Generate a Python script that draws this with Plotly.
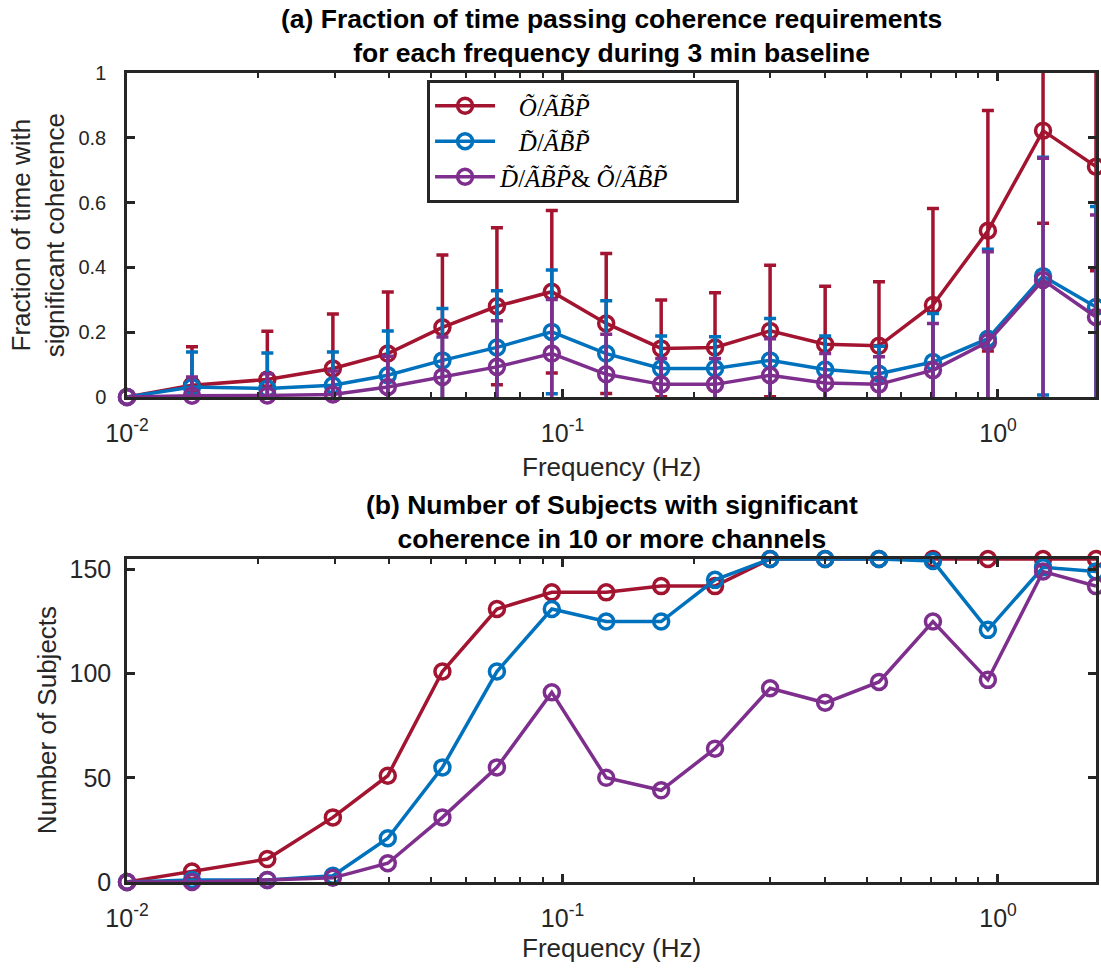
import plotly.graph_objects as go
import math

# ---------------- data ----------------
freqs = [0.0100, 0.0141, 0.0210, 0.0297, 0.0397, 0.0530, 0.0707, 0.0945, 0.126,
         0.1685, 0.224, 0.2997, 0.401, 0.533, 0.709, 0.948, 1.269, 1.679]

frac_O = [0, 0.036, 0.054, 0.088, 0.134, 0.215, 0.280, 0.325, 0.227, 0.150, 0.153,
          0.204, 0.163, 0.158, 0.284, 0.513, 0.822, 0.711]
std_O = [0, 0.119, 0.149, 0.168, 0.190, 0.223, 0.242, 0.251, 0.216, 0.149, 0.169,
         0.203, 0.179, 0.198, 0.298, 0.371, 0.286, 0.321]

frac_D = [0, 0.031, 0.026, 0.036, 0.067, 0.113, 0.153, 0.201, 0.134, 0.088, 0.088,
          0.113, 0.085, 0.072, 0.108, 0.180, 0.373, 0.278]
std_D = [0, 0.108, 0.110, 0.103, 0.137, 0.160, 0.175, 0.191, 0.163, 0.100, 0.098,
         0.129, 0.103, 0.085, 0.150, 0.276, 0.367, 0.310]

frac_DO = [0, 0.004, 0.005, 0.008, 0.031, 0.062, 0.093, 0.134, 0.070, 0.039, 0.039,
           0.067, 0.043, 0.039, 0.083, 0.170, 0.361, 0.247]
std_DO = [0, 0.058, 0.067, 0.072, 0.095, 0.123, 0.142, 0.167, 0.124, 0.080, 0.080,
          0.113, 0.091, 0.085, 0.144, 0.278, 0.376, 0.315]

n_O = [0, 5, 11, 31, 51, 101, 131, 139, 139, 142, 142, 155, 155, 155, 155, 155, 155, 155]
n_D = [0, 1, 1, 3, 21, 55, 101, 131, 125, 125, 145, 155, 155, 155, 154, 121, 151, 149]
n_DO = [0, 0, 1, 2, 9, 31, 55, 91, 50, 44, 64, 93, 86, 96, 125, 97, 149, 142]

NB = "\u00a0"
names = [NB * 3 + "<i>Õ</i>/<i>ÃB̃P̃</i>",
         NB * 3 + "<i>D̃</i>/<i>ÃB̃P̃</i>",
         "<i>D̃</i>/<i>ÃB̃P̃</i>&amp; <i>Õ</i>/<i>ÃB̃P̃</i>" + NB * 10]
colors = ["#A2142F", "#0072BD", "#7E2F8E"]

x_ticks = [0.01, 0.1, 1]
x_ticktext = ["10<sup>-2</sup>", "10<sup>-1</sup>", "10<sup>0</sup>"]
y1_ticks = [0, 0.2, 0.4, 0.6, 0.8, 1]
y1_ticktext = ["0", "0.2", "0.4", "0.6", "0.8", "1"]
y2_ticks = [0, 50, 100, 150]

title_a = "<b>(a) Fraction of time passing coherence requirements<br>for each frequency during 3 min baseline</b>"
title_b = "<b>(b) Number of Subjects with significant<br>coherence in 10 or more channels</b>"
xlabel = "Frequency (Hz)"
ylabel_a = "Fraction of time with<br>significant coherence"
ylabel_b = "Number of Subjects"

# ---------------- figure ----------------
W, H = 1101, 972
ML, MR, MT, MB = 127, 2, 73, 90
pw = W - ML - MR
ph = H - MT - MB

def py(y):  # pixel y -> paper y
    return 1 - (y - MT) / ph

def px(x):  # pixel x -> paper x
    return (x - ML) / pw

fig = go.Figure()

LW = 3.5
top_series = [(frac_O, std_O), (frac_D, std_D), (frac_DO, std_DO)]
for (vals, err), name, col in zip(top_series, names, colors):
    fig.add_trace(go.Scatter(
        x=freqs, y=vals, mode="markers", xaxis="x", yaxis="y",
        marker=dict(size=1, color="rgba(0,0,0,0)"),
        error_y=dict(type="data", array=err, visible=True, color=col,
                     thickness=LW, width=6),
        showlegend=False, hoverinfo="skip", cliponaxis=True))
    fig.add_trace(go.Scatter(
        x=freqs, y=vals, mode="lines+markers", name=name, xaxis="x", yaxis="y",
        line=dict(color=col, width=LW),
        marker=dict(symbol="circle-open", size=15, color=col, line=dict(width=LW)),
        cliponaxis=False, showlegend=True))

for vals, col in zip([n_O, n_D, n_DO], colors):
    fig.add_trace(go.Scatter(
        x=freqs, y=vals, mode="lines+markers", xaxis="x2", yaxis="y2",
        line=dict(color=col, width=LW),
        marker=dict(symbol="circle-open", size=15, color=col, line=dict(width=LW)),
        cliponaxis=False, showlegend=False))

axcol = "#262626"
FONT = "Liberation Sans, Arial, sans-serif"

top_dom = [py(397), 1]
bot_dom = [0, py(559)]
xr = [math.log10(freqs[0]), math.log10(freqs[-1])]

minor_vals = [k * 10 ** e for e in (-2, -1, 0) for k in range(2, 10) if k * 10 ** e < freqs[-1]]

common_x = dict(type="log", range=xr, showline=True, linecolor=axcol, linewidth=2.5,
                mirror="allticks", ticks="inside", ticklen=8, tickwidth=2.5,
                tickcolor=axcol, tickvals=x_ticks, ticktext=x_ticktext,
                tickfont=dict(family=FONT, size=25, color=axcol),
                ticklabelstandoff=12,
                showgrid=False, zeroline=False,
                minor=dict(ticks="inside", ticklen=5, tickwidth=2, tickcolor=axcol,
                           tickvals=minor_vals, showgrid=False))
common_y = dict(showline=True, linecolor=axcol, linewidth=2.5, mirror="allticks",
                ticks="inside", ticklen=8, tickwidth=2.5, tickcolor=axcol,
                showgrid=False, zeroline=False)

annots = [
    dict(text=title_a, x=0.5, y=py(36), font=dict(size=26.5, color="black")),
    dict(text=title_b, x=0.5, y=py(522), font=dict(size=26.5, color="black")),
    dict(text=xlabel, x=0.5, y=py(467), font=dict(size=26, color=axcol)),
    dict(text=xlabel, x=0.5, y=py(948), font=dict(size=26, color=axcol)),
    dict(text=ylabel_a, x=px(38), y=py(235), textangle=-90, font=dict(size=26, color=axcol)),
    dict(text=ylabel_b, x=px(47), y=py(720), textangle=-90, font=dict(size=26, color=axcol)),
]
for a in annots:
    a.update(xref="paper", yref="paper", xanchor="center", yanchor="middle", showarrow=False)

fig.update_layout(
    width=W, height=H,
    margin=dict(l=ML, r=MR, t=MT, b=MB),
    paper_bgcolor="white", plot_bgcolor="white",
    font=dict(family=FONT, color=axcol),
    xaxis=dict(common_x, anchor="y", domain=[0, 1]),
    yaxis=dict(common_y, anchor="x", domain=top_dom, range=[0, 1],
               tickvals=y1_ticks, ticktext=y1_ticktext,
               tickfont=dict(family=FONT, size=20, color=axcol), ticklabelstandoff=14),
    xaxis2=dict(common_x, anchor="y2", domain=[0, 1]),
    yaxis2=dict(common_y, anchor="x2", domain=bot_dom, range=[0, 155],
                tickvals=y2_ticks,
                tickfont=dict(family=FONT, size=25, color=axcol), ticklabelstandoff=8),
    legend=dict(x=px(428), y=py(80), xanchor="left", yanchor="top",
                bgcolor="white", bordercolor=axcol, borderwidth=3,
                font=dict(family="Liberation Serif, DejaVu Serif, serif", size=25, color="black"),
                tracegroupgap=0, itemwidth=60),
    annotations=annots,
)

fig.write_html("out.html", config={"displayModeBar": False},
               post_script="document.body.style.margin='0';document.body.style.overflow='hidden';")
